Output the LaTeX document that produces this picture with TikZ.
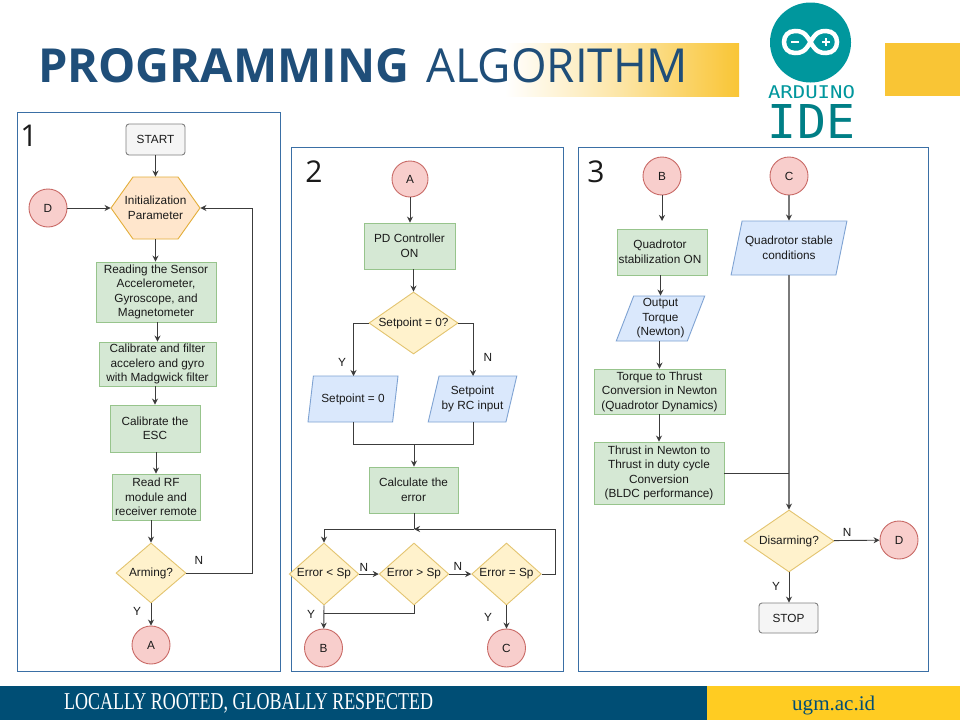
\documentclass[tikz,border=0pt]{standalone}
\usepackage{fontspec}
\usepackage{graphicx}
\setmainfont{Liberation Sans}
\newfontfamily\titlefont{Open Sans}
\newfontfamily\footfont{Liberation Serif}
\newfontfamily\monofont{DejaVu Sans Mono}
\usetikzlibrary{arrows.meta,shapes.geometric}
\definecolor{panelblue}{HTML}{3A6FA5}
\definecolor{titleblue}{HTML}{1F4E79}
\definecolor{gold}{HTML}{F9C535}
\definecolor{footblue}{HTML}{004E75}
\definecolor{footgold}{HTML}{FFCC22}
\definecolor{ardteal}{HTML}{00979D}
\definecolor{ardtext}{HTML}{007F86}
\definecolor{ink}{HTML}{1A1A1A}
\definecolor{wire}{HTML}{3C3C3C}
\definecolor{softwire}{HTML}{7A7A7A}
\definecolor{procline}{HTML}{97C48C}
\definecolor{procfill}{HTML}{D5E8D4}
\definecolor{termline}{HTML}{808080}
\definecolor{termfill}{HTML}{F5F5F5}
\definecolor{ioline}{HTML}{7FA3D3}
\definecolor{iofill}{HTML}{DAE8FC}
\definecolor{choiceline}{HTML}{E3C46F}
\definecolor{choicefill}{HTML}{FFF2CC}
\definecolor{linkline}{HTML}{C96A66}
\definecolor{linkfill}{HTML}{F8CECC}
\definecolor{hexline}{HTML}{E3AE3A}
\definecolor{hexfill}{HTML}{FFE6CC}
\tikzset{
  x=1pt,y=-1pt,
  base/.style={font=\fontsize{11.8}{14.5}\selectfont,text=ink,align=center,line width=0.9pt,inner sep=0pt},
  panel/.style={draw=panelblue,line width=0.9pt,fill=white},
  procbox/.style={base,rectangle,draw=procline,fill=procfill},
  termbox/.style={base,rectangle,rounded corners=3pt,draw=termline,fill=termfill},
  ioshape/.style={base,trapezium,trapezium left angle=68.6,trapezium right angle=111.4,trapezium stretches=true,draw=ioline,fill=iofill},
  choice/.style={base,diamond,aspect=1.45,draw=choiceline,fill=choicefill,minimum width=66pt,minimum height=62pt},
  link/.style={base,circle,draw=linkline,fill=linkfill,minimum size=38pt},
  hexa/.style={base,rectangle,minimum width=89pt,minimum height=62pt},
  wired/.style={draw=wire,line width=0.9pt},
  softwired/.style={draw=softwire,line width=1.2pt},
  flow/.style={wired,-{Stealth[length=6pt,width=6pt]}},
  softflow/.style={softwired,-{Stealth[length=6pt,width=6pt,color=wire]}},
  lab/.style={font=\fontsize{11.8}{14}\selectfont,text=ink,inner sep=0pt},
  num/.style={font=\titlefont\fontsize{30}{30}\selectfont,text=ink,inner sep=0pt},
}
\begin{document}
\begin{tikzpicture}
\useasboundingbox (0,0) rectangle (960,720);
\fill[white] (0,0) rectangle (960,720);
% header
\shade[left color=white,right color=gold,middle color=gold!45] (505,43) rectangle (739,96);
\fill[gold] (885,43) rectangle (960,96);
\node[anchor=base west,inner sep=0pt,text=titleblue] (titlea) at (38,82) {\resizebox{371pt}{34pt}{\titlefont\bfseries\fontsize{47}{47}\selectfont PROGRAMMING}};
\node[anchor=base west,inner sep=0pt,text=titleblue] (titleb) at (426,82) {\resizebox{262pt}{34pt}{\titlefont\fontsize{47}{47}\selectfont ALGORITHM}};
% logo
\fill[ardteal] (810.5,42.5) ellipse [x radius=40.5,y radius=40];
\draw[white,line width=4.5pt] (810.5,42) .. controls (805,32) and (801,31) .. (795,31) .. controls (788,31) and (784,36) .. (784,42) .. controls (784,48) and (788,53) .. (795,53) .. controls (801,53) and (805,52) .. (810.5,42) .. controls (816,32) and (820,31) .. (826,31) .. controls (833,31) and (837,36) .. (837,42) .. controls (837,48) and (833,53) .. (826,53) .. controls (820,53) and (816,52) .. (810.5,42) -- cycle;
\draw[white,line width=2pt] (791,42) -- (799,42) (822,42) -- (830,42) (826,38) -- (826,46);
\node[anchor=base,inner sep=0pt,text=ardteal] (ard) at (811.5,98.5) {\resizebox{87pt}{13pt}{\monofont ARDUINO}};
\node[anchor=base,inner sep=0pt,text=ardtext] (ide) at (811.5,138) {\resizebox{87pt}{34pt}{\monofont IDE}};
% panels
\draw[panel] (17,112) rectangle (280,671);
\draw[panel] (291,147) rectangle (563,671);
\draw[panel] (578,147) rectangle (928,671);
\node[num] (n1) at (29,136) {1};
\node[num] (n2) at (314,172) {2};
\node[num] (n3) at (596,172) {3};
% panel 1
\node[termbox,minimum width=59pt,minimum height=31pt] (start) at (155.5,139.5) {START};
\node[link] (d1) at (48,208) {D};
\fill[hexfill] (111,208) -- (133,177) -- (178,177) -- (200,208) -- (178,239) -- (133,239) -- cycle;
\draw[hexline,line width=0.9pt] (111,208) -- (133,177) -- (178,177) -- (200,208) -- (178,239) -- (133,239) -- cycle;
\node[hexa] (init) at (155.5,208) {Initialization\\Parameter};
\node[procbox,minimum width=120pt,minimum height=60pt] (read) at (156,292) {Reading the Sensor\\Accelerometer,\\Gyroscope, and\\Magnetometer};
\node[procbox,minimum width=117pt,minimum height=44pt] (calf) at (157.5,364) {Calibrate and filter\\accelero and gyro\\with Madgwick filter};
\node[procbox,minimum width=90pt,minimum height=47pt] (esc) at (155,428.5) {Calibrate the\\ESC};
\node[procbox,minimum width=88pt,minimum height=46pt] (rf) at (156,497) {Read RF\\module and\\receiver remote};
\node[choice,minimum width=70pt,minimum height=60pt] (arm) at (151,573) {Arming?};
\node[link] (a1) at (151,645) {A};
\draw[flow] (start) -- (init);
\draw[flow] (d1) -- (init);
\draw[flow] (init.south) -- (read.north -| init);
\draw[flow] (read.south -| calf) -- (calf);
\draw[flow] (calf.south -| esc) -- (esc);
\draw[flow] (esc.south -| rf) -- (rf);
\draw[flow] (rf.south -| arm) -- (arm);
\draw[flow] (arm) -- (a1);
\coordinate (loopa) at (252,573);
\coordinate (loopb) at (252,208);
\draw[flow] (arm.east) -- (loopa) -- (loopb) -- (init.east);
\node[lab] (ln1) at (199,560) {N};
\node[lab] (ly1) at (137,611) {Y};
% panel 2
\node[link,minimum size=36pt] (a2) at (410,179) {A};
\node[procbox,minimum width=91pt,minimum height=46pt] (pd) at (409.5,246) {PD Controller\\ON};
\node[choice,minimum width=89pt,minimum height=62pt] (sp) at (413.5,323) {Setpoint = 0?};
\node[ioshape,minimum width=90pt,minimum height=46pt] (spz) at (353,399) {Setpoint = 0};
\node[ioshape,minimum width=89pt,minimum height=46pt] (sprc) at (472.5,399) {Setpoint\\by RC input};
\node[procbox,minimum width=89pt,minimum height=46pt] (calc) at (413.5,490) {Calculate the\\error};
\node[choice] (elt) at (324,574) {Error < Sp};
\node[choice] (egt) at (414,574) {Error > Sp};
\node[choice,minimum width=67pt] (eeq) at (506.5,574) {Error = Sp};
\node[link] (b2) at (323.5,648) {B};
\node[link] (c2) at (506.5,648) {C};
\coordinate (mergeb) at (414,444.5);
\coordinate (loopc) at (414,529);
\coordinate (loopd) at (555.5,574);
\coordinate (loope) at (414,613);
\coordinate (spl) at (353.5,376);
\coordinate (spr) at (473,376);
\coordinate (spls) at (353.5,422);
\coordinate (sprs) at (473,422);
\draw[flow] (a2) -- (pd.north -| a2);
\draw[flow] (pd.south -| sp) -- (sp);
\draw[flow] (sp.west) -| (spl);
\draw[flow] (sp.east) -| (spr);
\draw[wired] (spls) |- (mergeb);
\draw[wired] (sprs) |- (mergeb);
\draw[flow] (mergeb) -- (calc.north -| mergeb);
\draw[wired] (calc.south -| loopc) -- (loopc);
\draw[flow] (loopc) -| (elt.north);
\draw[wired] (eeq.east) -- (loopd);
\draw[flow] (loopd) |- (loopc);
\draw[flow] (elt) -- (egt);
\draw[flow] (egt) -- (eeq);
\draw[flow] (elt.south) -- (b2);
\draw[wired] (egt.south) |- (loope -| elt);
\draw[flow] (eeq) -- (c2);
\node[lab] (ly2a) at (342,362) {Y};
\node[lab] (ln2a) at (488,357) {N};
\node[lab] (ln2b) at (364,567) {N};
\node[lab] (ln2c) at (458,566) {N};
\node[lab] (ly2b) at (311,614) {Y};
\node[lab] (ly2c) at (488,617) {Y};
% panel 3
\node[link] (b3) at (662,176) {B};
\node[link] (c3) at (789,176) {C};
\coordinate (bstop) at (662,221);
\node[procbox,minimum width=90pt,minimum height=46pt] (qon) at (662,252) {\mbox{}\hspace{-4pt}Quadrotor\\\hspace{-4pt}stabilization ON};
\node[ioshape,minimum width=89pt,minimum height=45pt] (tq) at (660.5,318.5) {Output\\Torque\\(Newton)};
\node[ioshape,trapezium left angle=66,trapezium right angle=114,minimum width=116pt,minimum height=54pt] (qst) at (789,248) {Quadrotor stable\\conditions};
\node[procbox,minimum width=131pt,minimum height=45pt] (conv) at (659.5,391.5) {Torque to Thrust\\Conversion in Newton\\(Quadrotor Dynamics)};
\node[procbox,minimum width=130pt,minimum height=62pt] (duty) at (659,473) {Thrust in Newton to\\Thrust in duty cycle\\Conversion\\(BLDC performance)};
\node[choice,minimum width=90pt,minimum height=62pt] (dis) at (789,541) {Disarming?};
\node[link] (d3) at (899,540) {D};
\node[termbox,minimum width=59pt,minimum height=30pt] (stop) at (788.5,618) {STOP};
\coordinate (jn) at (789,473);
\draw[flow] (b3) -- (bstop);
\draw[softflow] (c3) -- (qst.north -| c3);
\draw[flow] (qon.south -| tq) -- (tq.north -| tq);
\draw[flow] (tq.south -| conv) -- (conv);
\draw[flow] (conv.south -| duty) -- (duty);
\draw[softflow] (qst.south -| dis) -- (dis);
\draw[wired] (duty.east) -- (jn);
\draw[flow] (dis) -- (d3);
\draw[flow] (dis) -- (stop.north -| dis);
\node[lab] (ln3) at (847,532) {N};
\node[lab] (ly3) at (776,586) {Y};
% footer
\fill[footblue] (0,686) rectangle (707,720);
\fill[footgold] (707,686) rectangle (960,720);
\node[anchor=base west,inner sep=0pt,text=white] (motto) at (64,709) {\resizebox{369pt}{16pt}{\footfont\fontsize{21}{21}\selectfont LOCALLY ROOTED, GLOBALLY RESPECTED}};
\node[anchor=base west,inner sep=0pt,text=footblue] (site) at (792,710) {\resizebox{83pt}{14.5pt}{\footfont\fontsize{21}{21}\selectfont ugm.ac.id}};
\end{tikzpicture}
\end{document}
